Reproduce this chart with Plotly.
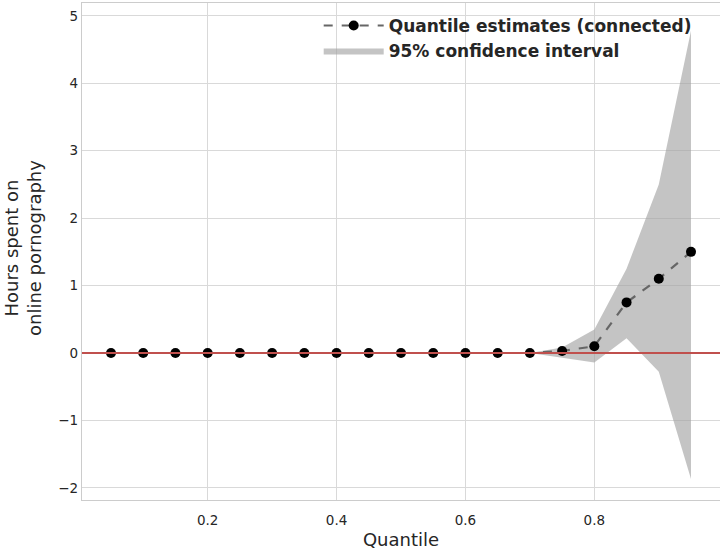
import plotly.graph_objects as go

quantiles = [0.05, 0.10, 0.15, 0.20, 0.25, 0.30, 0.35, 0.40, 0.45, 0.50,
             0.55, 0.60, 0.65, 0.70, 0.75, 0.80, 0.85, 0.90, 0.95]
estimates = [0, 0, 0, 0, 0, 0, 0, 0, 0, 0,
             0, 0, 0, 0, 0.03, 0.10, 0.75, 1.10, 1.50]
ci_upper = [0, 0, 0, 0, 0, 0, 0, 0, 0, 0,
            0, 0, 0, 0, 0.08, 0.35, 1.25, 2.50, 4.78]
ci_lower = [0, 0, 0, 0, 0, 0, 0, 0, 0, 0,
            0, 0, 0, 0, -0.07, -0.14, 0.22, -0.28, -1.87]

FONT = "DejaVu Sans"
GRID = "#d9d9d9"

fig = go.Figure()

# confidence band: lower edge then upper edge filled to it
fig.add_trace(go.Scatter(
    x=quantiles, y=ci_lower, mode="lines", line=dict(width=0),
    showlegend=False, hoverinfo="skip"))
fig.add_trace(go.Scatter(
    x=quantiles, y=ci_upper, mode="lines", line=dict(width=0),
    fill="tonexty", fillcolor="rgba(160,160,160,0.62)",
    name="95% confidence interval"))

# zero reference line
fig.add_hline(y=0, line=dict(color="#c0504d", width=1.8), layer="above")

fig.add_trace(go.Scatter(
    x=quantiles, y=estimates, mode="lines+markers",
    line=dict(color="#666666", width=2.2, dash="dash"),
    marker=dict(color="black", size=10),
    name="Quantile estimates (connected)"))

axis_common = dict(
    showgrid=True, gridcolor=GRID, gridwidth=1,
    showline=True, linecolor="#cccccc", linewidth=1.2, mirror=True,
    zeroline=False,
    tickfont=dict(family=FONT, size=13.5, color="#262626"),
)

fig.update_layout(
    width=720, height=552,
    margin=dict(l=82, r=0, t=3, b=52),
    paper_bgcolor="white", plot_bgcolor="white",
    font=dict(family=FONT, color="#262626"),
    xaxis=dict(range=[0.005, 0.995], tickvals=[0.2, 0.4, 0.6, 0.8],
               ticktext=["0.2", "0.4", "0.6", "0.8"],
               ticks="outside", ticklen=8, tickcolor="rgba(0,0,0,0)",
               title=dict(text="Quantile", font=dict(family=FONT, size=18), standoff=6),
               **axis_common),
    yaxis=dict(range=[-2.18, 5.19], tickvals=[-2, -1, 0, 1, 2, 3, 4, 5],
               ticktext=["\u22122", "\u22121", "0", "1", "2", "3", "4", "5"],
               ticks="", **axis_common),
    legend=dict(x=0.371, y=0.99, xanchor="left", yanchor="top",
                bgcolor="rgba(0,0,0,0)", traceorder="reversed",
                font=dict(family=FONT, size=17, color="#262626", weight="bold"),
                itemwidth=60, tracegroupgap=0),
)

# y-axis title as a rotated two-line label
fig.add_annotation(
    text="Hours spent on<br>online pornography",
    xref="paper", yref="paper", x=-0.0925, y=0.507,
    xanchor="center", yanchor="middle", textangle=-90, showarrow=False,
    font=dict(family=FONT, size=18, color="#262626"))

fig.write_html("out.html")
